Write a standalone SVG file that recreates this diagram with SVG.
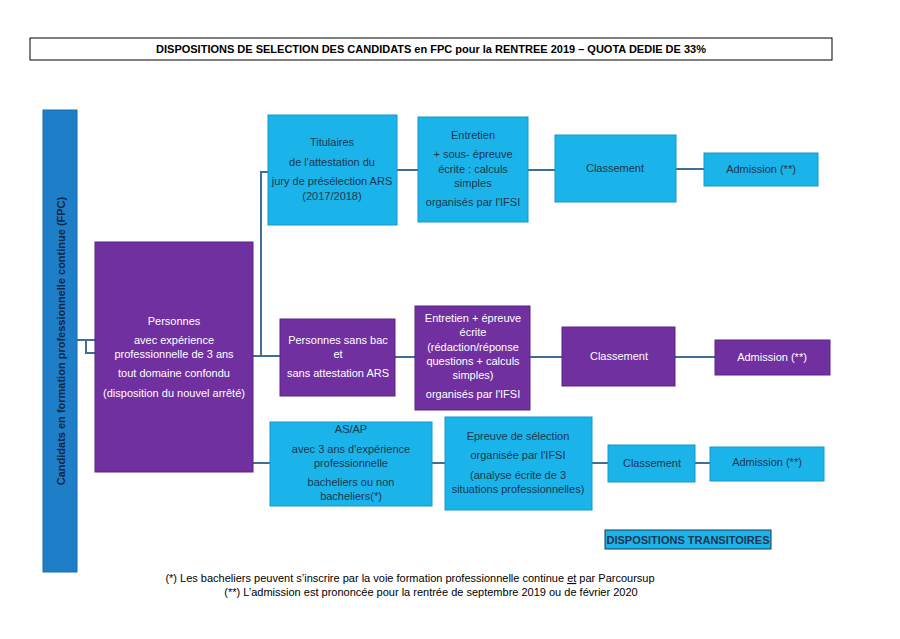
<svg xmlns="http://www.w3.org/2000/svg" width="900" height="639" viewBox="0 0 900 639">
<style>
text{font-family:"Liberation Sans",Arial,sans-serif;font-size:11px;text-anchor:middle}
.c rect{fill:#1ab4ea;stroke:#1597c8;stroke-width:1}
.p rect{fill:#7030a0;stroke:#5a2585;stroke-width:1}
.c text{fill:#1f3550}
.p text{fill:#fff}
#conn path{fill:none;stroke:#3f6e96;stroke-width:2}
</style>
<rect width="900" height="639" fill="#fff"/>
<g id="title"><rect x="30" y="38" width="802" height="22" fill="#fff" stroke="#000"/><text x="431" y="53" font-weight="bold" font-size="11.5">DISPOSITIONS DE SELECTION DES CANDIDATS en FPC pour la RENTREE 2019 – QUOTA DEDIE DE 33%</text></g>
<g id="conn">
<path d="M77 340H95M86 340V353H95"/>
<path d="M253 356H280M261 356V172H268M253 463H270"/>
<path d="M397 170H418M528 170H555M676 169H704"/>
<path d="M395 357H415M530 357H562M675 357H715"/>
<path d="M432 463H445M592 463H608M695 463H710"/>
</g>
<g id="bar"><rect x="43" y="110" width="34" height="462" fill="#1f7ec8" stroke="#1a6aa8"/><text transform="translate(65 341) rotate(-90)" font-size="14.5" font-weight="bold" fill="#0f2740">Candidats en formation professionnelle continue (FPC)</text></g>
<g id="n0" class="p"><rect x="95" y="242" width="158" height="230"/><text x="174" y="325">Personnes</text><text x="174" y="344">avec expérience</text><text x="174" y="358">professionnelle de 3 ans</text><text x="174" y="377">tout domaine confondu</text><text x="174" y="397">(disposition du nouvel arrêté)</text></g>
<g id="n1" class="c"><rect x="268" y="115" width="129" height="110"/><text x="332" y="146">Titulaires</text><text x="332" y="166">de l'attestation du</text><text x="332" y="185">jury de présélection ARS</text><text x="332" y="200">(2017/2018)</text></g>
<g id="n2" class="c"><rect x="418" y="117" width="110" height="105"/><text x="473" y="139">Entretien</text><text x="473" y="158">+ sous- épreuve</text><text x="473" y="173">écrite : calculs</text><text x="473" y="187">simples</text><text x="473" y="206">organisés par l'IFSI</text></g>
<g id="n3" class="c"><rect x="555" y="135" width="121" height="67"/><text x="615" y="172">Classement</text></g>
<g id="n4" class="c"><rect x="704" y="153" width="114" height="33"/><text x="761" y="173">Admission (**)</text></g>
<g id="n5" class="p"><rect x="280" y="319" width="115" height="77"/><text x="338" y="344">Personnes sans bac</text><text x="338" y="358">et</text><text x="338" y="377">sans attestation ARS</text></g>
<g id="n6" class="p"><rect x="415" y="306" width="115" height="104"/><text x="473" y="322">Entretien + épreuve</text><text x="473" y="336">écrite</text><text x="473" y="351">(rédaction/réponse</text><text x="473" y="365">questions + calculs</text><text x="473" y="379">simples)</text><text x="473" y="398">organisés par l'IFSI</text></g>
<g id="n7" class="p"><rect x="562" y="327" width="113" height="59"/><text x="619" y="360">Classement</text></g>
<g id="n8" class="p"><rect x="715" y="340" width="115" height="35"/><text x="772" y="361">Admission (**)</text></g>
<g id="n9" class="c"><rect x="270" y="422" width="162" height="84"/><text x="351" y="433">AS/AP</text><text x="351" y="453">avec 3 ans d'expérience</text><text x="351" y="467">professionnelle</text><text x="351" y="486">bacheliers ou non</text><text x="351" y="500">bacheliers(*)</text></g>
<g id="n10" class="c"><rect x="445" y="417" width="147" height="93"/><text x="518" y="440">Epreuve de sélection</text><text x="518" y="459">organisée par l'IFSI</text><text x="518" y="479">(analyse écrite de 3</text><text x="518" y="493">situations professionnelles)</text></g>
<g id="n11" class="c"><rect x="608" y="445" width="87" height="37"/><text x="652" y="467">Classement</text></g>
<g id="n12" class="c"><rect x="710" y="447" width="114" height="34"/><text x="767" y="466">Admission (**)</text></g>
<g id="n13"><rect x="605" y="530" width="166" height="19" fill="#1ab4ea" stroke="#1f3550"/><text x="688" y="544" font-size="10" font-weight="bold" fill="#1f3550">DISPOSITIONS TRANSITOIRES</text></g>
<text x="410" y="582" font-size="10">(*) Les bacheliers peuvent s’inscrire par la voie formation professionnelle continue <tspan text-decoration="underline">et</tspan> par Parcoursup</text>
<text x="431" y="596" font-size="10">(**) L’admission est prononcée pour la rentrée de septembre 2019 ou de février 2020</text>
</svg>
